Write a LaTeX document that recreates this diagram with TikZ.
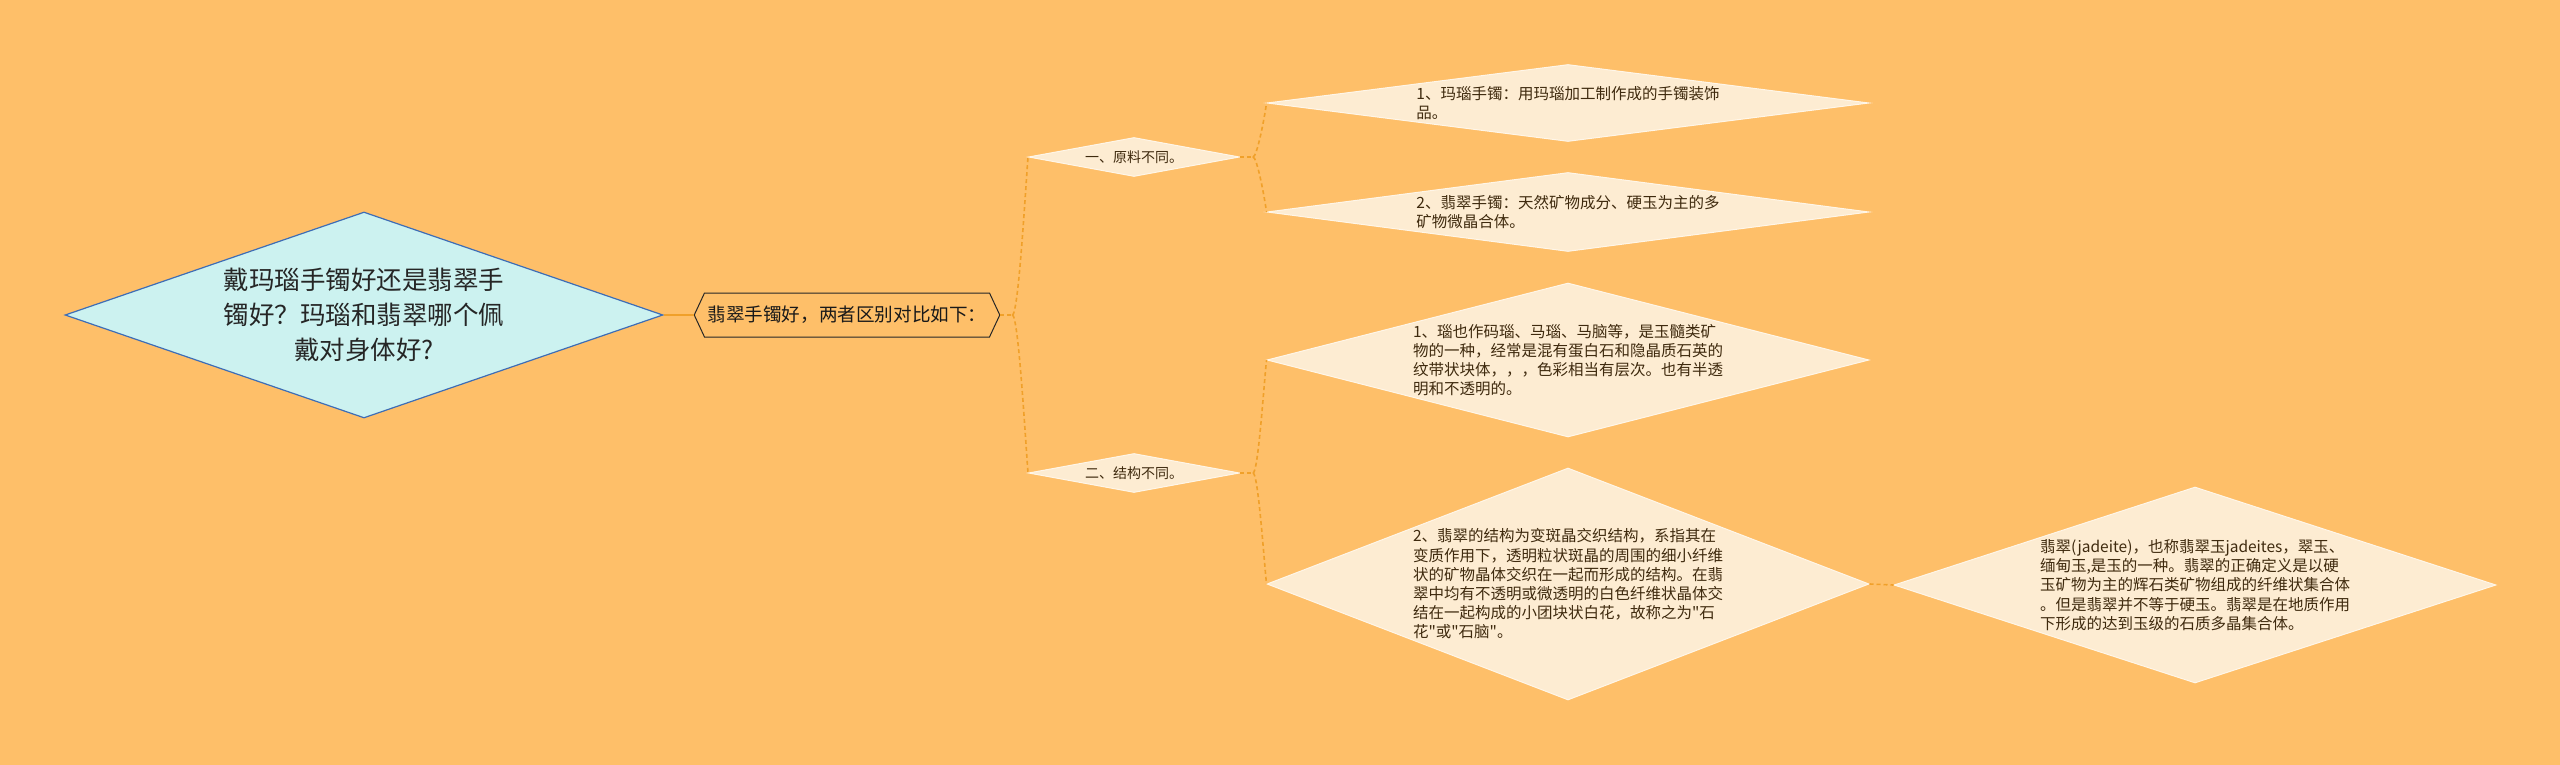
\documentclass[tikz,border=0pt]{standalone}
\usepackage{fontspec}
\newfontfamily\cjk{Noto Sans CJK SC}
\usepackage{xcolor}
\usepackage{tikz}
\usetikzlibrary{shapes.geometric,shapes.symbols}
\definecolor{bgorange}{HTML}{FEBF69}
\definecolor{rootfill}{HTML}{CCF2F0}
\definecolor{rootline}{HTML}{3E6DB5}
\definecolor{leaffill}{HTML}{FDECD2}
\definecolor{leafline}{HTML}{FFF6E8}
\definecolor{linkorange}{HTML}{F0A02A}
\definecolor{inkbrown}{HTML}{3F2A0E}

\begin{document}
\begin{tikzpicture}[x=1pt,y=-1pt,
rootnode/.style={diamond,draw=rootline,line width=1.2pt,fill=rootfill,inner sep=0pt,aspect=2.9,minimum width=598pt,minimum height=206pt,align=center,text=black!85,font=\cjk\fontsize{25.5}{35}\selectfont},
hexnode/.style={signal,signal to=west and east,signal pointer angle=130,draw=black!85,line width=1pt,fill=bgorange,inner xsep=3pt,minimum height=44pt,text=black!90,font=\cjk\fontsize{18.6}{22}\selectfont},
midnode/.style={diamond,draw=leafline,line width=1pt,fill=leaffill,inner sep=0pt,aspect=5.41,minimum width=211pt,minimum height=39pt,text=inkbrown,font=\cjk\fontsize{14}{17}\selectfont},
leafnode/.style={diamond,draw=leafline,line width=1pt,fill=leaffill,inner sep=0pt,minimum width=602pt,align=left,text=inkbrown,font=\cjk\fontsize{15.5}{19.2}\selectfont},
link/.style={draw=linkorange,line width=1.6pt,dash pattern=on 4pt off 3pt},
rootlink/.style={draw=linkorange,line width=1.8pt}]
\fill[bgorange](0,0)rectangle(2560,765);
\node[rootnode](root)at(364,315){戴玛瑙手镯好还是翡翠手\\镯好？玛瑙和翡翠哪个佩\\戴对身体好?};
\node[hexnode](hex)at(847,315){翡翠手镯好，两者区别对比如下：};
\node[midnode](one)at(1134,157){一、原料不同。};
\node[midnode](two)at(1134,473){二、结构不同。};
\node[leafnode,aspect=7.82,minimum height=77pt](a1)at(1568,103){1、玛瑙手镯：用玛瑙加工制作成的手镯装饰\\品。};
\node[leafnode,aspect=7.62,minimum height=79pt](a2)at(1568,212){2、翡翠手镯：天然矿物成分、硬玉为主的多\\矿物微晶合体。};
\node[leafnode,aspect=3.91,minimum height=154pt](b1)at(1568,360){1、瑙也作码瑙、马瑙、马脑等，是玉髓类矿\\物的一种，经常是混有蛋白石和隐晶质石英的\\纹带状块体，，，色彩相当有层次。也有半透\\明和不透明的。};
\node[leafnode,aspect=2.59,minimum height=232pt](b2)at(1568,584){2、翡翠的结构为变斑晶交织结构，系指其在\\变质作用下，透明粒状斑晶的周围的细小纤维\\状的矿物晶体交织在一起而形成的结构。在翡\\翠中均有不透明或微透明的白色纤维状晶体交\\结在一起构成的小团块状白花，故称之为"石\\花"或"石脑"。};
\node[leafnode,aspect=3.07,minimum height=196pt](c)at(2195,585){翡翠(jadeite)，也称翡翠玉jadeites，翠玉、\\缅甸玉,是玉的一种。翡翠的正确定义是以硬\\玉矿物为主的辉石类矿物组成的纤维状集合体\\。但是翡翠并不等于硬玉。翡翠是在地质作用\\下形成的达到玉级的石质多晶集合体。};
\draw[rootlink](root.east)--(hex.west);
\draw[link](hex.east)--++(12,0)coordinate(j0);
\draw[link](j0)..controls+(6,0)and+(-3,40)..(one.west);
\draw[link](j0)..controls+(6,0)and+(-3,-40)..(two.west);
\draw[link](one.east)--++(13,0)coordinate(j1);
\draw[link](j1)..controls+(4,0)and+(-2,15)..(a1.west);
\draw[link](j1)..controls+(4,0)and+(-2,-15)..(a2.west);
\draw[link](two.east)--++(13,0)coordinate(j2);
\draw[link](j2)..controls+(5,0)and+(-3,30)..(b1.west);
\draw[link](j2)..controls+(5,0)and+(-3,-30)..(b2.west);
\draw[link](b2.east)--(c.west);
\end{tikzpicture}
\end{document}
